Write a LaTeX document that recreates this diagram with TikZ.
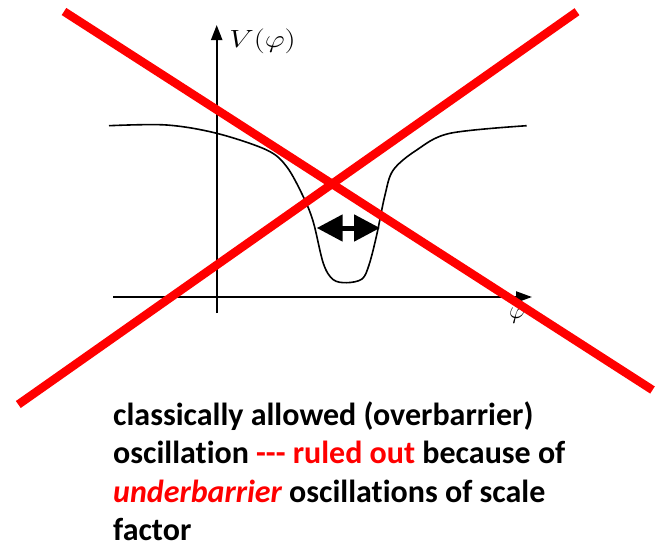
\documentclass[tikz,border=0pt]{standalone}
\usepackage{fontspec}
\setmainfont{Carlito}[Ligatures={TeX,NoCommon}]
\usetikzlibrary{arrows.meta}
\definecolor{xred}{RGB}{255,0,0}
\tikzset{
  axisline/.style={line width=2.2pt, draw=black},
  curveline/.style={line width=1.6pt, draw=black, line join=round},
  crossline/.style={line width=8.5pt, draw=xred},
  osc/.style={line width=5pt, {Triangle[length=26pt,width=26pt]}-{Triangle[length=26pt,width=26pt]}},
  caption/.style={font=\fontsize{32}{38.5}\selectfont\bfseries, align=left, inner sep=0pt}
}
\begin{document}
\begin{tikzpicture}[x=1pt,y=-1pt]
\useasboundingbox (0,0) rectangle (662,546);
% axes
\coordinate (vbot) at (216.7,313);
\coordinate (vtop) at (216.7,25);
\coordinate (hleft) at (113,297);
\coordinate (hright) at (532,297);
\draw[axisline, -{Triangle[length=15pt,width=11pt]}] (vbot) -- (vtop);
\draw[axisline, -{Triangle[length=16pt,width=11pt]}] (hleft) -- (hright);
\node[anchor=west, inner sep=0pt, font=\fontsize{23}{27}\selectfont, xscale=1.25, transform shape] (vlab) at (229,41) {$V(\varphi)$};
\node[inner sep=0pt, font=\fontsize{25}{30}\selectfont] (philab) at (517,316) {$\varphi$};
% potential curve
\draw[curveline] plot[smooth, tension=0.55] coordinates {
 (109,125.7) (166.7,125) (216.7,133.3) (266.7,150) (286.7,166.7) (303.3,196.7)
 (313.3,222) (323.3,263.3) (333,279.5) (346.7,282.7) (362,279) (369,265) (376.7,235)
 (385,195) (393.3,170) (416.7,150) (450,133.3) (526.7,125.7)};
% oscillation arrow
\coordinate (oscl) at (316.7,228);
\coordinate (oscr) at (380,228);
\draw[osc] (oscl) -- (oscr);
% red cross
\coordinate (c1a) at (64,11.5);
\coordinate (c1b) at (652.5,390);
\coordinate (c2a) at (577,11.7);
\coordinate (c2b) at (18.3,404.5);
\draw[crossline] (c1a) -- (c1b);
\draw[crossline] (c2a) -- (c2b);
% caption
\node[caption, anchor=base west] (cap) at (113,540.5) {classically allowed (overbarrier)\\
oscillation \textcolor{xred}{-{}-{}- ruled out} because of\\
\textcolor{xred}{\itshape underbarrier} oscillations of scale\\
factor};
\end{tikzpicture}
\end{document}
